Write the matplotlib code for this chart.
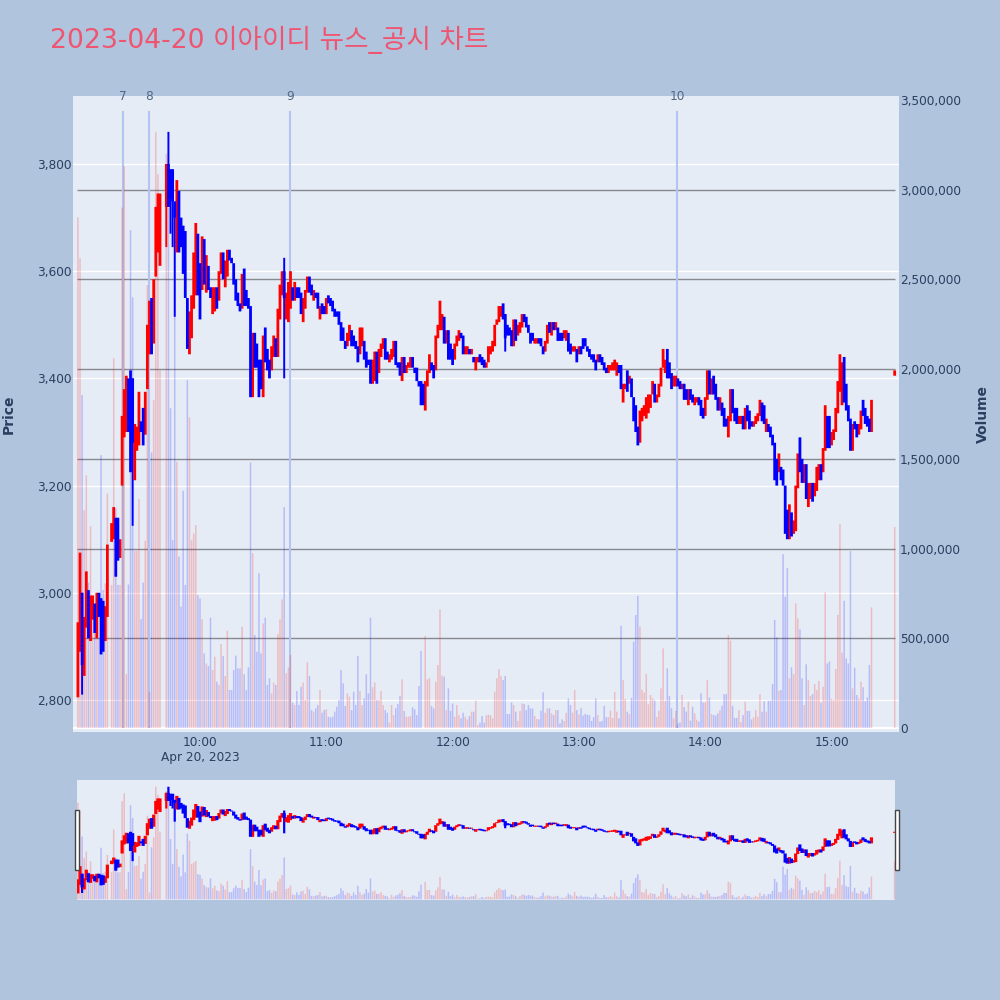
#!/usr/bin/env python3
"""2023-04-20 minute candles with volume and a range slider underneath"""

import numpy as np
import matplotlib
matplotlib.use('Agg')
import matplotlib.pyplot as plt
from matplotlib.patches import Rectangle

# minutes after 09:00
minutes = list(range(2, 380)) + [390]

opens = [
    2805, 2890, 3000, 2845, 2935, 3005, 2910, 2950, 2980, 2915,
    3000, 2990, 2985, 2910, 2955, None, 3095, 3100, 3140, 3140,
    3065, 3200, 3290, 3300, 3400, 3415, 3400, 3210, 3265, 3275,
    3320, 3345, 3295, 3380, 3445, 3550, 3465, 3590, 3635, 3610,
    None, None, 3720, 3800, 3790, 3790, 3730, 3635, 3750, 3700,
    3685, 3675, 3550, 3445, 3475, 3530, 3555, 3670, 3615, 3565,
    3660, 3560, 3610, 3570, 3520, 3525, 3570, 3545, 3595, 3635,
    3570, 3590, 3640, 3625, 3615, 3585, 3560, 3540, 3530, 3605,
    3565, 3550, 3535, 3365, 3485, 3465, 3435, 3435, 3365, 3495,
    3455, 3435, 3415, 3440, 3475, 3440, 3510, 3555, 3600, 3510,
    3505, 3530, 3570, 3545, 3570, 3570, 3560, 3505, 3530, 3560,
    3590, 3575, 3545, 3560, 3560, 3510, 3540, 3535, 3520, 3555,
    3550, 3545, 3530, 3525, 3525, 3505, 3495, 3470, 3460, 3470,
    3490, 3480, 3470, 3460, 3445, 3460, 3470, 3450, 3435, 3435,
    3390, 3395, 3450, 3410, 3440, 3455, 3475, 3450, 3430, 3435,
    3440, 3470, 3430, 3430, 3395, 3440, 3410, 3420, 3420, 3440,
    3420, 3420, 3395, 3395, 3390, 3340, 3385, 3410, 3430, 3425,
    3415, 3475, 3490, 3490, 3515, 3465, 3490, 3465, 3455, 3435,
    3460, 3470, 3485, 3480, 3445, 3445, 3455, 3445, 3440, 3415,
    3430, 3445, 3440, 3435, 3420, 3430, 3445, 3450, 3460, 3500,
    3505, 3515, 3540, 3520, 3500, 3495, 3490, 3460, 3510, 3480,
    3485, 3495, 3520, 3515, 3500, 3485, 3485, 3465, 3465, 3475,
    3475, 3460, 3450, 3465, 3505, 3480, 3505, 3490, 3495, 3485,
    3485, 3475, 3470, 3485, 3465, 3450, 3450, 3455, 3445, 3460,
    3475, 3475, 3460, 3455, 3445, 3445, 3435, 3430, 3445, 3440,
    3430, 3420, 3410, 3415, 3415, 3415, 3405, 3425, 3425, 3355,
    3380, 3415, 3390, 3400, 3365, 3350, 3310, 3280, 3320, 3330,
    3325, 3335, 3345, 3370, 3390, 3355, 3365, 3385, 3420, 3410,
    3455, 3430, 3410, 3385, 3385, 3400, 3395, 3380, 3390, 3380,
    3350, 3380, 3370, 3350, 3355, 3365, 3360, 3345, 3330, 3360,
    3415, 3370, 3405, 3390, 3365, 3340, 3355, 3345, 3325, 3290,
    3320, 3380, 3345, 3345, 3315, 3315, 3330, 3305, 3350, 3340,
    3320, 3310, 3315, 3320, 3330, 3355, 3350, 3300, 3315, 3310,
    3295, 3280, 3250, 3225, 3235, 3230, 3200, 3155, 3100, 3150,
    3110, 3115, 3195, 3290, 3250, 3205, 3240, 3160, 3175, 3205,
    3180, 3190, 3210, 3240, 3225, 3265, 3330, 3330, 3275, 3285,
    3300, 3335, 3375, 3350, 3440, 3390, 3350, 3325, 3265, 3320,
    3315, 3295, 3305, 3360, 3345, 3330, 3325, 3300, 3405,
]

closes = [
    2945, 3075, 2865, 2955, 3040, 2915, 2995, 2995, 2925, 3000,
    2955, 2885, 2890, 2975, 3090, None, 3130, 3160, 3030, 3060,
    3100, 3330, 3380, 3405, 3300, 3225, 3280, 3315, 3310, 3375,
    3300, 3275, 3375, 3500, 3545, 3445, 3585, 3720, 3745, 3745,
    None, None, 3800, 3720, 3735, 3730, 3700, 3770, 3635, 3645,
    3595, 3550, 3455, 3525, 3555, 3635, 3690, 3555, 3510, 3665,
    3575, 3630, 3565, 3550, 3570, 3570, 3530, 3600, 3635, 3585,
    3620, 3640, 3620, 3615, 3575, 3545, 3535, 3525, 3595, 3535,
    3535, 3530, 3365, 3485, 3420, 3420, 3365, 3380, 3480, 3430,
    3415, 3400, 3460, 3480, 3440, 3530, 3575, 3600, 3550, 3560,
    3580, 3600, 3545, 3580, 3550, 3550, 3520, 3550, 3565, 3590,
    3560, 3555, 3565, 3550, 3530, 3535, 3520, 3520, 3550, 3540,
    3535, 3525, 3515, 3515, 3500, 3470, 3470, 3455, 3485, 3500,
    3460, 3460, 3455, 3430, 3495, 3495, 3435, 3420, 3425, 3390,
    3435, 3450, 3390, 3455, 3465, 3475, 3435, 3435, 3445, 3455,
    3470, 3425, 3420, 3405, 3440, 3410, 3425, 3430, 3440, 3420,
    3410, 3395, 3385, 3350, 3350, 3395, 3415, 3445, 3415, 3400,
    3480, 3500, 3545, 3520, 3465, 3490, 3435, 3435, 3425, 3465,
    3480, 3490, 3475, 3445, 3460, 3460, 3445, 3455, 3430, 3440,
    3440, 3430, 3425, 3420, 3430, 3460, 3460, 3470, 3500, 3510,
    3535, 3535, 3510, 3475, 3480, 3480, 3460, 3510, 3470, 3500,
    3505, 3520, 3505, 3495, 3485, 3465, 3470, 3475, 3475, 3465,
    3460, 3445, 3470, 3500, 3485, 3505, 3490, 3505, 3470, 3470,
    3470, 3490, 3490, 3450, 3445, 3460, 3460, 3430, 3460, 3445,
    3455, 3460, 3450, 3440, 3435, 3430, 3415, 3445, 3430, 3425,
    3415, 3410, 3425, 3425, 3430, 3435, 3430, 3410, 3380, 3390,
    3390, 3375, 3405, 3365, 3320, 3300, 3275, 3340, 3345, 3350,
    3365, 3370, 3370, 3395, 3355, 3370, 3390, 3420, 3455, 3435,
    3400, 3400, 3380, 3405, 3405, 3385, 3380, 3390, 3360, 3360,
    3380, 3360, 3355, 3365, 3365, 3350, 3330, 3325, 3365, 3415,
    3370, 3400, 3370, 3360, 3340, 3365, 3330, 3310, 3310, 3330,
    3380, 3335, 3320, 3315, 3330, 3330, 3305, 3345, 3320, 3305,
    3310, 3320, 3330, 3335, 3360, 3320, 3315, 3325, 3300, 3290,
    3275, 3210, 3200, 3260, 3210, 3200, 3110, 3100, 3165, 3105,
    3135, 3200, 3260, 3225, 3205, 3240, 3175, 3205, 3205, 3170,
    3205, 3235, 3240, 3210, 3270, 3350, 3270, 3270, 3300, 3305,
    3345, 3395, 3445, 3430, 3355, 3340, 3320, 3265, 3315, 3305,
    3290, 3315, 3340, 3330, 3315, 3310, 3300, 3360, 3415,
]

# thousands of shares
volumes = [
    2846, 2618, 1855, 1214, 1409, 811, 1125, 713, 676, 509,
    500, 1521, 769, 806, 1307, 0, 797, 2060, 1224, 797,
    797, 2900, 3130, 300, 800, 2774, 2400, 988, 988, 1276,
    607, 811, 1044, 2468, 200, 1536, 1827, 3320, 3086, 1994,
    0, 0, 3200, 2900, 1782, 1047, 2780, 1484, 955, 676,
    1322, 797, 1938, 1732, 1047, 1084, 1131, 741, 722, 607,
    416, 360, 345, 615, 323, 397, 258, 240, 468, 401,
    290, 542, 212, 212, 323, 403, 332, 332, 564, 299,
    212, 338, 1480, 975, 518, 425, 863, 416, 583, 615,
    240, 277, 193, 253, 240, 524, 605, 717, 1231, 305,
    338, 407, 141, 128, 206, 128, 230, 253, 156, 366,
    290, 100, 91, 110, 128, 212, 85, 100, 104, 63,
    59, 63, 91, 119, 156, 323, 249, 123, 193, 175,
    100, 202, 128, 401, 206, 128, 165, 299, 193, 615,
    227, 254, 156, 156, 206, 128, 100, 85, 30, 128,
    72, 110, 134, 178, 271, 95, 63, 63, 67, 115,
    104, 72, 234, 429, 0, 513, 271, 277, 123, 110,
    258, 351, 661, 292, 286, 100, 221, 95, 137, 63,
    128, 72, 54, 85, 63, 48, 67, 91, 91, 152,
    17, 30, 67, 30, 70, 74, 72, 54, 202, 277,
    329, 290, 267, 290, 78, 78, 143, 128, 91, 39,
    95, 137, 134, 100, 128, 110, 108, 67, 50, 48,
    97, 199, 85, 110, 110, 82, 72, 100, 100, 26,
    48, 39, 85, 165, 128, 85, 212, 100, 76, 110,
    69, 78, 74, 72, 39, 61, 165, 72, 35, 39,
    124, 61, 61, 97, 56, 201, 91, 54, 570, 267,
    162, 91, 78, 167, 481, 630, 737, 565, 212, 197,
    301, 132, 184, 165, 154, 61, 97, 221, 444, 152,
    332, 178, 110, 54, 95, 24, 32, 184, 117, 91,
    147, 41, 119, 82, 46, 35, 193, 143, 143, 267,
    169, 78, 72, 69, 82, 100, 124, 188, 189, 518,
    487, 123, 56, 56, 100, 33, 72, 147, 95, 95,
    48, 59, 100, 63, 188, 91, 150, 91, 152, 152,
    245, 602, 505, 208, 212, 969, 732, 891, 277, 338,
    300, 695, 611, 550, 277, 128, 355, 267, 178, 189,
    245, 212, 262, 141, 230, 756, 360, 371, 162, 156,
    329, 630, 1137, 420, 709, 388, 360, 986, 221, 336,
    184, 165, 258, 227, 150, 171, 351, 672, 1120,
]

# long wicks only, the rest of the candles are body
wick_minutes = [4, 28, 44, 45, 46, 47, 48, 100, 205]
wick_highs = [3000, 3400, 3800, 3860, 3790, 3790, 3730, 3625, 3520]
wick_lows = [2810, 3125, 3645, 3720, 3670, 3645, 3515, 3400, 3450]

# news items on the timeline
event_minutes = [23.4, 35.8, 102.8, 286.6]
event_labels = ['7', '8', '9', '10']

price_ticks = [2800, 3000, 3200, 3400, 3600, 3800]
volume_ticks = [0, 500000, 1000000, 1500000, 2000000, 2500000, 3000000, 3500000]
hour_ticks = [60, 120, 180, 240, 300, 360]
hour_labels = ['10:00', '11:00', '12:00', '13:00', '14:00', '15:00']

BG = '#B0C4DE'
PLOT_BG = '#E5ECF6'
TEXT = '#2a3f5f'

plt.rcParams['font.family'] = ['DejaVu Sans', 'Noto Sans CJK KR']
plt.rcParams['font.size'] = 8.7


def draw_marks(ax_vol, ax_price, body_lw, wick_lw):
    """Draws volume bars on one axis and candles on the other"""
    m = np.array(minutes, dtype=float)
    o = np.array(opens, dtype=float)
    c = np.array(closes, dtype=float)
    v = np.array(volumes, dtype=float) * 1000
    up = np.nan_to_num(c) >= np.nan_to_num(o)

    ax_vol.bar(m[up], v[up], width=0.72, color='red', alpha=0.2, linewidth=0, zorder=3, snap=False)
    ax_vol.bar(m[~up], v[~up], width=0.72, color='blue', alpha=0.2, linewidth=0, zorder=3, snap=False)

    wick_colors = ['red' if closes[minutes.index(t)] >= opens[minutes.index(t)] else 'blue'
                   for t in wick_minutes]
    ax_price.vlines(wick_minutes, wick_lows, wick_highs, color=wick_colors,
                    linewidth=wick_lw, zorder=4, snap=False)
    ok = ~np.isnan(o)
    ax_price.vlines(m[ok & up], o[ok & up], c[ok & up], color='red', linewidth=body_lw, zorder=5, snap=False)
    ax_price.vlines(m[ok & ~up], o[ok & ~up], c[ok & ~up], color='blue', linewidth=body_lw, zorder=5, snap=False)


fig = plt.figure(figsize=(10, 10), dpi=100, facecolor=BG)

# main panel, placed from the pixel box of the reference
ax_vol = fig.add_axes([0.073, 0.268, 0.826, 0.636], facecolor=PLOT_BG)
ax_price = ax_vol.twinx()
ax_price.patch.set_visible(False)
for a in (ax_vol, ax_price):
    a.set_xlim(-0.33, 392.06)
    for s in a.spines.values():
        s.set_visible(False)

ax_vol.set_ylim(-22300, 3522000)
ax_price.set_ylim(2740.3, 3926.9)

# price on the left, volume on the right
ax_price.yaxis.tick_left()
ax_vol.yaxis.tick_right()
ax_price.set_yticks(price_ticks)
ax_price.set_yticklabels([f'{t:,}' for t in price_ticks], color=TEXT)
ax_vol.set_yticks(volume_ticks)
ax_vol.set_yticklabels([f'{t:,}' for t in volume_ticks], color=TEXT)
ax_price.tick_params(axis='y', length=0, pad=1)
ax_vol.tick_params(axis='y', length=0, pad=0.8)

ax_vol.set_xticks(hour_ticks)
ax_vol.set_xticklabels(hour_labels, color=TEXT)
ax_vol.tick_params(axis='x', length=0, pad=3)
ax_price.tick_params(axis='x', length=0, labelbottom=False)

# white price grid sits under everything, so draw it on the lower axis
for t in price_ticks:
    y_vol = -22300 + (t - 2740.3) / (3926.9 - 2740.3) * (3522000 + 22300)
    ax_vol.axhline(y_vol, color='white', linewidth=1.0, zorder=1)
ax_vol.axhline(0, color='white', linewidth=1.6, zorder=1)
ax_vol.hlines(volume_ticks[1:-1], 1.57, 390.2, color='#888a90', linewidth=1.0, zorder=2)

ax_vol.vlines(event_minutes, 0, 3440000, color='#b4c3f0', linewidth=1.5, zorder=2)
for t, label in zip(event_minutes, event_labels):
    ax_vol.annotate(label, (t, 1), xycoords=('data', 'axes fraction'), ha='center', va='center',
                    color='#506784')

draw_marks(ax_vol, ax_price, 2.0, 1.4)

# range slider
ax_slider = fig.add_axes([0.077, 0.1, 0.818, 0.12], facecolor=PLOT_BG)
ax_slider2 = ax_slider.twinx()
ax_slider2.patch.set_visible(False)
for a in (ax_slider, ax_slider2):
    a.set_xlim(1.57, 390.2)
    a.set_xticks([])
    a.set_yticks([])
    for s in a.spines.values():
        s.set_visible(False)
ax_slider.set_ylim(-22300, 3522000)
ax_slider2.set_ylim(2740.3, 3926.9)
draw_marks(ax_slider, ax_slider2, 2.3, 1.6)

for left in (0.0745, 0.8945):
    fig.add_artist(Rectangle((left, 0.13), 0.0043, 0.06, transform=fig.transFigure,
                             facecolor='white', edgecolor='#444444', linewidth=1.0, zorder=10))

fig.text(0.05, 0.96, '2023-04-20 이아이디 뉴스_공시 차트', fontsize=19.2, color='#EF5570', va='center')
fig.text(0.2, 0.242, 'Apr 20, 2023', color=TEXT, ha='center', va='center')
fig.text(0.009, 0.586, 'Price', color=TEXT, rotation=90, fontsize=10, fontweight='bold', ha='center', va='center')
fig.text(0.983, 0.586, 'Volume', color=TEXT, rotation=90, fontsize=10, fontweight='bold', ha='center', va='center')

fig.savefig('out.png', dpi=100, facecolor=BG)
